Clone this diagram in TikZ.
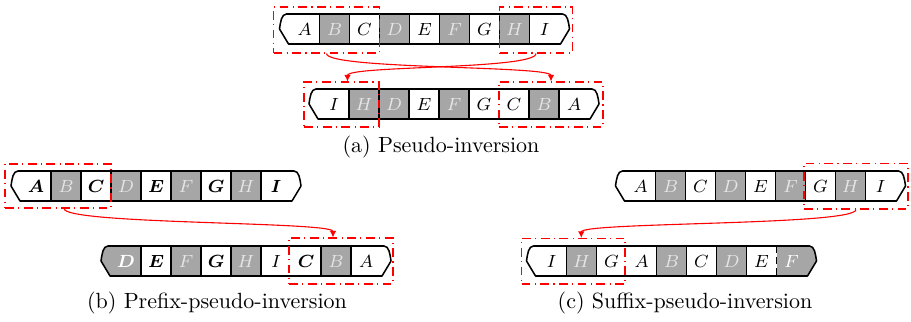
\documentclass[tikz,border=0pt]{standalone}
\usepackage{amsmath}
\usepackage{xcolor}
\usepackage{tikz}
\usetikzlibrary{arrows.meta,fit}
\definecolor{CellGray}{HTML}{A6A6A6}
\definecolor{LetterGray}{HTML}{E6E6E6}
\newlength\pxl
\setlength\pxl{0.4545pt}

% outline of one strand, from its first to its last cell
\newcommand{\drawstrand}[2]{%
  \draw[strand] (#1.north west) -- (#2.north east)
    -- ++(3,0) .. controls +(5,0) and +(-1,7) .. ([xshift=10\pxl]#2.east)
    -- ([xshift=1\pxl]#2.south east) -- (#1.south west)
    -- ([xshift=-1\pxl]#1.south west) -- ([xshift=-10\pxl]#1.west)
    .. controls +(1,7) and +(-5,0) .. ([xshift=-3\pxl]#1.north west) -- cycle;}

\tikzset{
  cellw/.style={minimum width=30\pxl, minimum height=30\pxl, inner sep=0pt,
                outer sep=0pt, font=\footnotesize},
  cellb/.style={cellw, font=\footnotesize\boldmath},
  cellg/.style={cellw, fill=CellGray, draw=black, line width=0.7pt, text=LetterGray},
  cellc/.style={cellw, fill=CellGray, text=white},
  strand/.style={line width=0.7pt, line join=round},
  redbox/.style={draw=red, line width=0.5pt, inner sep=0pt,
                 dash pattern=on 4pt off 2pt on 0.5pt off 2pt},
  swap/.style={draw=red, line width=0.5pt, -{Latex[length=3pt,width=3pt]}},
}

\begin{document}
\begin{tikzpicture}[x=\pxl, y=\pxl]
  \useasboundingbox (0,0) rectangle (911,322);

  % (a) pseudo-inversion
  \foreach \lab/\sty [count=\i] in {A/cellw,B/cellg,C/cellw,D/cellg,E/cellw,F/cellg,G/cellw,H/cellg,I/cellw}
    \node[\sty] (at\i) at (274.5+30*\i, 293) {$\lab$};
  \drawstrand{at1}{at9}
  \foreach \lab/\sty [count=\i] in {I/cellw,H/cellg,D/cellg,E/cellw,F/cellg,G/cellw,C/cellw,B/cellg,A/cellw}
    \node[\sty] (ab\i) at (304+30*\i, 218) {$\lab$};
  \drawstrand{ab1}{ab9}
  \node[redbox, fit={([shift={(-16,7)}]at1.north west) ([shift={(0,-9)}]at3.south east)}] (fatl) {};
  \node[redbox, fit={([shift={(0,7)}]at8.north west) ([shift={(13,-9)}]at9.south east)}] (fatr) {};
  \node[redbox, fit={([shift={(-15,7)}]ab1.north west) ([shift={(0,-8)}]ab2.south east)}] (fabl) {};
  \node[redbox, fit={([shift={(0,7)}]ab7.north west) ([shift={(14,-8)}]ab9.south east)}] (fabr) {};
  \draw[swap] (fatl.south) .. controls +(0,-16) and +(0,16) .. (fabr.north);
  \draw[swap] (fatr.south) .. controls +(0,-16) and +(0,16) .. ([shift={(6,0)}]fabl.north);
  \node (capa) at (441,175) {(a) Pseudo-inversion};

  % (b) prefix-pseudo-inversion
  \foreach \lab/\sty [count=\i] in {A/cellb,B/cellg,C/cellb,D/cellg,E/cellb,F/cellg,G/cellb,H/cellg,I/cellb}
    \node[\sty] (bt\i) at (6+30*\i, 136) {$\lab$};
  \drawstrand{bt1}{bt9}
  \foreach \lab/\sty [count=\i] in {D/cellc,E/cellb,F/cellg,G/cellb,H/cellg,I/cellw,C/cellb,B/cellg,A/cellw}
    \node[\sty, /utils/exec={\ifnum\i=1 \boldmath\fi}] (bb\i) at (96+30*\i, 61) {$\lab$};
  \fill[CellGray] ([xshift=-3\pxl]bb1.north west) .. controls +(-5,0) and +(1,7) .. ([xshift=-10\pxl]bb1.west)
    -- ([xshift=-1\pxl]bb1.south west) -- (bb1.south west) -- (bb1.north west) -- cycle;
  \draw[strand] (bb1.north east) -- (bb1.south east);
  \drawstrand{bb1}{bb9}
  \node[redbox, fit={([shift={(-16,7)}]bt1.north west) ([shift={(0,-7)}]bt3.south east)}] (fbt) {};
  \node[redbox, fit={([shift={(-2,8)}]bb7.north west) ([shift={(12,-8)}]bb9.south east)}] (fbb) {};
  \draw[swap] ([shift={(6,0)}]fbt.south) .. controls +(0,-16) and +(0,16) .. ([shift={(-8,0)}]fbb.north);
  \node (capb) at (217,19) {(b) Prefix-pseudo-inversion};

  % (c) suffix-pseudo-inversion
  \foreach \lab/\sty [count=\i] in {A/cellw,B/cellg,C/cellw,D/cellg,E/cellw,F/cellg,G/cellw,H/cellg,I/cellw}
    \node[\sty] (ct\i) at (610.5+30*\i, 136) {$\lab$};
  \drawstrand{ct1}{ct9}
  \foreach \lab/\sty [count=\i] in {I/cellw,H/cellg,G/cellw,A/cellw,B/cellg,C/cellw,D/cellg,E/cellw,F/cellc}
    \node[\sty] (cb\i) at (521.5+30*\i, 61) {$\lab$};
  \fill[CellGray] (cb9.north east) -- ++(3,0) .. controls +(5,0) and +(-1,7) .. ([xshift=10\pxl]cb9.east)
    -- ([xshift=1\pxl]cb9.south east) -- (cb9.south east) -- cycle;
  \draw[thin, densely dashed] (cb9.north west) -- (cb9.south west);
  \drawstrand{cb1}{cb9}
  \node[redbox, fit={([shift={(-1.5,7.5)}]ct7.north west) ([shift={(12.5,-8)}]ct9.south east)}] (fct) {};
  \node[redbox, fit={([shift={(-15,7.5)}]cb1.north west) ([shift={(-1.5,-8)}]cb3.south east)}] (fcb) {};
  \draw[swap] (fct.south) .. controls +(0,-16) and +(0,16) .. ([shift={(8,0)}]fcb.north);
  \node (capc) at (685,19) {(c) Suffix-pseudo-inversion};
\end{tikzpicture}
\end{document}
